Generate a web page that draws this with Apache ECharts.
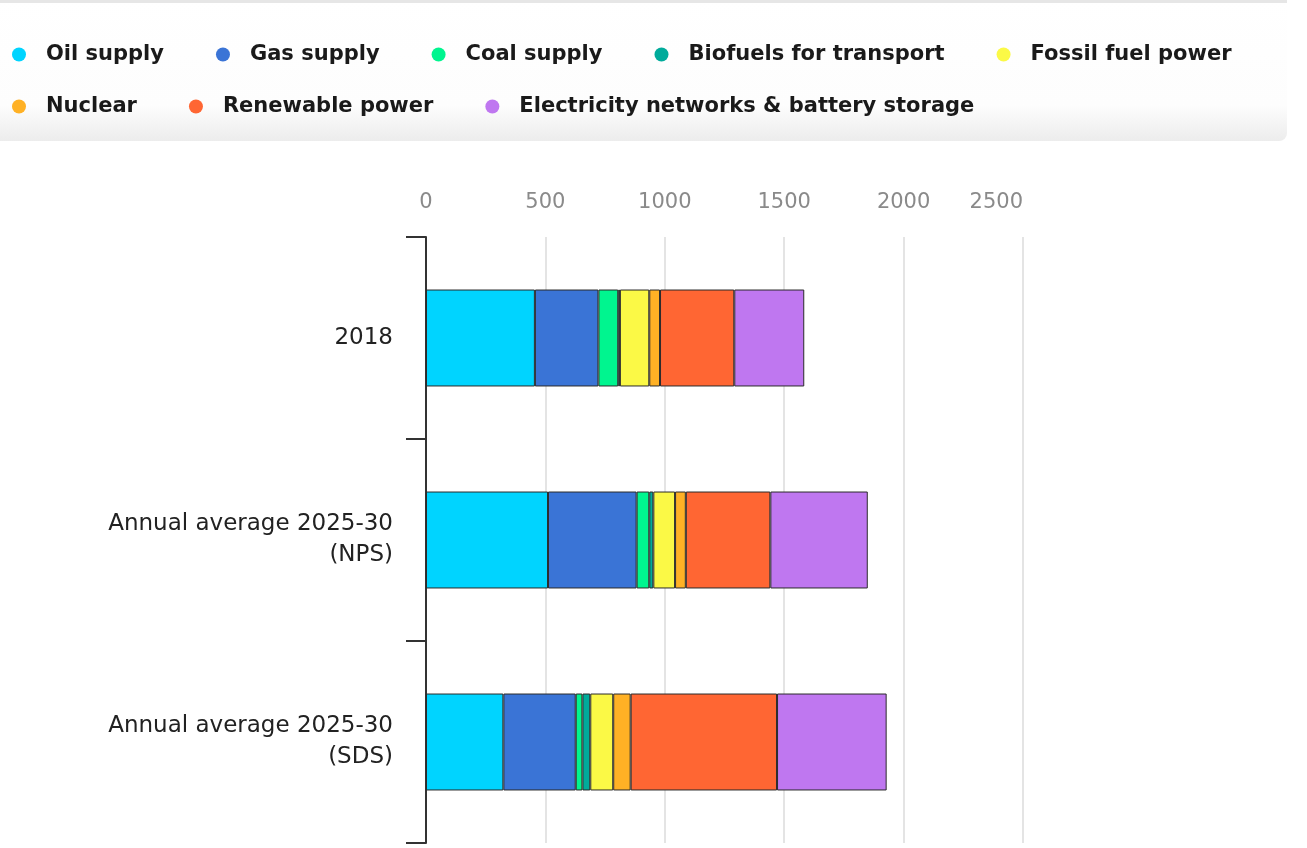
<!DOCTYPE html>
<html>
<head>
<meta charset="utf-8">
<script src="https://cdn.jsdelivr.net/npm/echarts@6/dist/echarts.min.js"></script>
<style>
	html, body { margin: 0; padding: 0; background: #fff; }
	#chart { width: 1307px; height: 848px; }
</style>
</head>
<body>
<div id="chart"></div>
<script>
var categories = ['2018', 'Annual average 2025-30\n(NPS)', 'Annual average 2025-30\n(SDS)'];
var seriesNames = ['Oil supply', 'Gas supply', 'Coal supply', 'Biofuels for transport',
	'Fossil fuel power', 'Nuclear', 'Renewable power', 'Electricity networks & battery storage'];
var colors = ['#00d4ff', '#3a74d6', '#00f58f', '#00ab9b', '#fbf946', '#ffb125', '#ff6633', '#bf77f0'];

var oilSupply = [456, 511, 324];
var gasSupply = [266, 371, 303];
var coalSupply = [83, 53, 28];
var biofuels = [7, 17, 33];
var fossilPower = [123, 91, 96];
var nuclear = [45, 45, 73];
var renewables = [311, 354, 613];
var networks = [293, 408, 459];
var xTicks = [0, 500, 1000, 1500, 2000, 2500];

var values = [oilSupply, gasSupply, coalSupply, biofuels, fossilPower, nuclear, renewables, networks];
var font = '"DejaVu Sans", sans-serif';

var chart = echarts.init(document.getElementById('chart'));

var legendText = { fontSize: 21, fontWeight: 'bold', color: '#1a1a1a', fontFamily: font, padding: [0, 0, 0, 15] };

chart.setOption({
	animation: false,
	graphic: [
		{
			type: 'rect', left: 0, top: 0, z: -10,
			shape: { width: 1287, height: 141, r: [0, 0, 8, 0] },
			style: {
				fill: new echarts.graphic.LinearGradient(0, 0, 0, 1, [
					{ offset: 0, color: '#ffffff' },
					{ offset: 0.75, color: '#fdfdfd' },
					{ offset: 1, color: '#ececec' }
				])
			}
		},
		{
			type: 'rect', left: 0, top: 0, z: -9,
			shape: { width: 1287, height: 3 },
			style: { fill: '#e6e6e6' }
		}
	],
	legend: [
		{
			data: seriesNames.slice(0, 5),
			left: 7, top: 39,
			icon: 'circle', itemWidth: 14, itemHeight: 14, itemGap: 52,
			itemStyle: { borderWidth: 0 },
			textStyle: legendText
		},
		{
			data: seriesNames.slice(5),
			left: 7, top: 91,
			icon: 'circle', itemWidth: 14, itemHeight: 14, itemGap: 52,
			itemStyle: { borderWidth: 0 },
			textStyle: legendText
		}
	],
	grid: { left: 426, right: 284, top: 237, bottom: 5 },
	xAxis: {
		type: 'value',
		position: 'top',
		min: xTicks[0], max: xTicks[xTicks.length - 1], interval: xTicks[1] - xTicks[0],
		axisLine: { show: false },
		axisTick: { show: false },
		axisLabel: {
			color: '#8a8a8a', fontSize: 21, fontFamily: font, margin: 24,
			alignMaxLabel: 'right',
			formatter: function(v) { return String(v); }
		},
		splitLine: { show: true, lineStyle: { color: '#e4e4e4', width: 2 } }
	},
	yAxis: {
		type: 'category',
		inverse: true,
		data: categories,
		axisLine: { show: true, lineStyle: { color: '#333', width: 2 } },
		axisTick: { show: true, length: 20, lineStyle: { color: '#333', width: 2 } },
		axisLabel: { color: '#222', fontSize: 23, fontFamily: font, margin: 33, lineHeight: 31, align: 'right' }
	},
	series: seriesNames.map(function(name, i) {
		return {
			name: name,
			type: 'bar',
			stack: 'total',
			barWidth: '48%',
			data: values[i],
			itemStyle: { color: colors[i], borderColor: '#2b2b2b', borderWidth: 1 }
		};
	})
});
</script>
</body>
</html>
